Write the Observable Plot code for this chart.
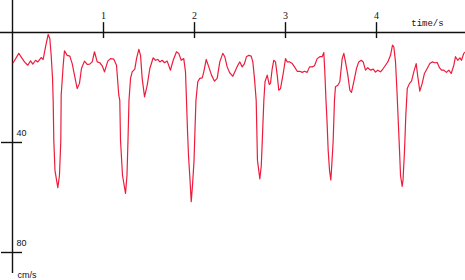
<!DOCTYPE html>
<html>
<head>
<meta charset="utf-8">
<script src="https://cdn.jsdelivr.net/npm/d3@7"></script>
<script src="https://cdn.jsdelivr.net/npm/@observablehq/plot@0.6"></script>
<style>
  html, body { margin: 0; padding: 0; background: #fff; }
  #chart svg { display: block; }
</style>
</head>
<body>
<div id="chart"></div>
<script>
// time (s)
const time = [
  0.008,0.069,0.107,0.132,0.168,0.198,0.223,0.253,0.278,0.315,0.337,0.363,0.392,0.410,0.425,0.440,0.447,0.454,0.467,0.498,
  0.516,0.531,0.535,0.557,0.571,0.601,0.630,0.656,0.692,0.711,0.736,0.758,0.791,0.821,0.849,0.876,0.901,0.931,0.959,0.986,
  1.011,1.047,1.077,1.113,1.143,1.168,1.179,1.187,1.209,1.242,1.258,1.269,1.280,1.297,1.315,1.344,1.363,1.388,1.407,1.425,
  1.451,1.480,1.509,1.546,1.571,1.597,1.619,1.645,1.670,1.700,1.736,1.766,1.802,1.827,1.854,1.882,1.901,1.912,1.923,1.934,
  1.951,1.964,1.978,1.995,2.005,2.016,2.036,2.058,2.085,2.102,2.129,2.157,2.187,2.220,2.249,2.278,2.311,2.333,2.359,2.388,
  2.421,2.451,2.476,2.498,2.524,2.549,2.571,2.597,2.623,2.641,2.659,2.678,2.685,2.692,2.718,2.734,2.747,2.762,2.775,2.799,
  2.821,2.835,2.854,2.871,2.890,2.909,2.926,2.945,2.975,3.000,3.019,3.047,3.074,3.099,3.129,3.157,3.184,3.209,3.238,3.264,
  3.293,3.319,3.348,3.377,3.403,3.421,3.432,3.445,3.456,3.469,3.484,3.498,3.505,3.524,3.538,3.549,3.575,3.597,3.623,3.641,
  3.659,3.685,3.707,3.725,3.751,3.780,3.805,3.832,3.854,3.879,3.904,3.934,3.964,3.989,4.014,4.044,4.074,4.099,4.124,4.154,
  4.176,4.190,4.209,4.227,4.234,4.253,4.264,4.282,4.291,4.308,4.322,4.338,4.363,4.385,4.410,4.436,4.454,4.476,4.502,4.527,
  4.557,4.586,4.612,4.641,4.667,4.692,4.714,4.740,4.769,4.795,4.821,4.850,4.868,4.893,4.916,4.934,4.959,4.978
];
// velocity (cm/s), downward positive
const velocity = [
  11.0,7.6,9.5,10.7,11.9,10.3,11.5,10.1,10.7,9.1,9.8,5.2,0.7,2.2,8.3,16.7,24.7,39.3,50.2,56.4,
  52.0,39.3,22.8,11.9,6.7,8.3,8.6,11.3,17.3,20.4,18.5,13.1,10.4,11.6,11.5,10.7,7.0,10.7,11.0,12.1,
  14.3,10.4,9.5,9.7,11.9,22.8,24.7,39.3,52.0,58.5,52.0,39.3,24.7,16.7,14.3,13.3,9.5,6.1,8.3,16.7,
  23.4,19.2,13.1,9.2,10.1,9.8,10.7,10.1,11.0,10.4,13.7,10.1,7.0,7.6,10.1,9.5,14.3,24.7,35.6,44.7,
  53.8,61.5,55.6,46.5,35.6,24.7,17.9,16.7,16.5,14.3,9.8,12.5,15.5,17.7,16.7,10.7,7.6,8.8,12.5,14.7,
  15.9,13.7,11.9,10.7,12.5,11.3,8.8,8.3,8.6,10.7,16.7,24.7,35.6,46.5,53.2,48.4,37.5,24.7,17.9,15.5,
  18.9,18.5,13.1,10.1,10.7,15.5,21.0,20.4,14.9,9.5,10.7,10.7,11.3,12.5,14.1,14.1,14.5,14.1,14.5,12.5,
  12.5,12.1,9.5,8.8,8.8,7.3,14.3,24.7,32.0,42.9,50.2,53.6,50.2,39.3,24.7,19.7,19.2,17.9,9.5,7.6,
  10.7,15.5,21.0,21.8,17.9,13.1,10.7,10.1,10.7,13.7,12.8,13.7,13.3,14.4,13.7,14.3,13.1,11.9,10.7,8.3,
  4.6,5.2,10.7,22.8,28.4,42.9,52.0,56.0,53.8,42.9,30.2,20.4,18.5,17.7,14.3,11.3,16.1,21.3,18.5,14.9,
  13.1,11.3,10.7,11.0,10.9,12.8,13.7,13.7,14.5,13.7,14.9,11.9,8.8,10.1,9.2,10.1,7.6,7.0
];
const timeTicks = [1, 2, 3, 4];
const velocityTicks = [40, 80];
const timeLabel = "time/s";
const velocityLabel = "cm/s";
const timeDomain = [0, 4.978];
const velocityDomain = [0, 80];
// axis and tick extents (data units)
const timeAxisExtent = [-0.132, 4.978];
const velocityAxisExtent = [-11.6, 87.6];
const timeTickExtent = [-3.6, 2.2];
const velocityTickExtent = [-0.121, 0.11];

const wave = time.map((t, i) => ({t, v: velocity[i]}));

const axisColor = "#111";
const waveColor = "#ee1c3c";

const chart = Plot.plot({
  width: 465,
  height: 280,
  marginLeft: 12,
  marginRight: 0,
  marginTop: 32,
  marginBottom: 28,
  x: {type: "linear", domain: timeDomain, axis: null},
  y: {type: "linear", domain: velocityDomain, reverse: true, axis: null},
  style: {background: "#fff", overflow: "visible"},
  marks: [
    Plot.ruleY([0], {x1: () => timeAxisExtent[0], x2: () => timeAxisExtent[1], stroke: axisColor, strokeWidth: 1.4}),
    Plot.ruleX([0], {y1: () => velocityAxisExtent[0], y2: () => velocityAxisExtent[1], stroke: axisColor, strokeWidth: 1.4}),
    Plot.ruleX(timeTicks, {x: d => d, y1: () => timeTickExtent[0], y2: () => timeTickExtent[1], stroke: axisColor, strokeWidth: 1.4}),
    Plot.ruleY(velocityTicks, {y: d => d, x1: () => velocityTickExtent[0], x2: () => velocityTickExtent[1], stroke: axisColor, strokeWidth: 1.4}),
    Plot.line(wave, {x: "t", y: "v", stroke: waveColor, strokeWidth: 1.2, curve: "linear"}),
    Plot.text(timeTicks, {x: d => d, y: () => 0, text: d => String(d), dy: -17, fontSize: 10, fontFamily: "Liberation Serif", fill: axisColor}),
    Plot.text([timeLabel], {x: () => 4.56, y: () => 0, text: d => d, dy: -9.5, fontSize: 9, fontFamily: "Liberation Mono", fill: axisColor}),
    Plot.text(velocityTicks, {x: () => 0, y: d => d, text: d => String(d), dx: 4, dy: -9, textAnchor: "start", fontSize: 9, fontFamily: "Liberation Sans", fill: axisColor}),
    Plot.text([velocityLabel], {x: () => 0, y: () => 80, text: d => d, dx: 5, dy: 23, textAnchor: "start", fontSize: 9, fontFamily: "Liberation Sans", fill: axisColor})
  ]
});
document.getElementById("chart").appendChild(chart);
</script>
</body>
</html>
